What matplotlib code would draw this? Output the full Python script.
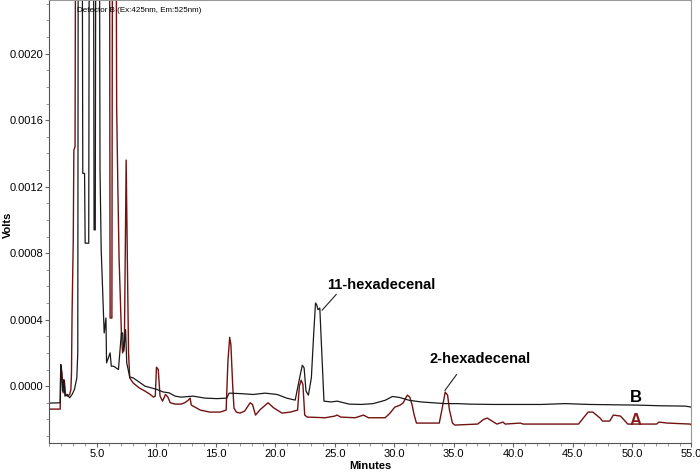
import numpy as np
import matplotlib.pyplot as plt
from matplotlib.ticker import MultipleLocator, FormatStrFormatter

plt.rcParams['font.family'] = ['Liberation Sans', 'DejaVu Sans']

# trace B (black) : minutes / signal in 1e-4 V (30 = off scale)
t_b = [1.0, 1.9, 1.95, 2.0, 2.1, 2.2, 2.3, 2.5, 2.7, 2.9, 3.1, 3.3, 3.38, 3.42,
       3.75, 3.8, 3.95, 4.0, 4.3, 4.35, 4.7, 4.75, 4.85, 4.9, 5.2, 5.25, 5.35,
       5.6, 5.75, 5.8, 6.1, 6.2, 6.4, 6.6, 6.8, 7.05, 7.15, 7.25, 7.4, 7.5, 7.75,
       8.03, 8.54, 9.04, 9.55, 10.05, 10.56, 11.06, 11.57, 12.07, 13.08, 14.09,
       15.1, 15.91, 16.11, 17.12, 18.13, 19.14, 20.15, 20.96, 21.67, 22.07, 22.27,
       22.42, 22.58, 22.78, 23.03, 23.23, 23.38, 23.48, 23.59, 23.74, 23.94, 24.09,
       24.7, 25.2, 26.21, 27.22, 28.23, 29.24, 29.85, 30.45, 31.26, 32.27, 33.28,
       34.29, 35.3, 36.31, 38.33, 40.35, 42.37, 44.39, 46.41, 48.43, 50.45, 52.47,
       54.49, 55.0]
v_b = [-1.02, -1.0, 1.26, 0.9, -0.3, 0.4, -0.6, -0.5, -0.7, -0.5, -0.2, 0.5, 2.0, 30,
       30, 12.8, 12.8, 8.6, 8.6, 30, 30, 9.4, 9.4, 30, 30, 13, 8.2,
       3.2, 4.1, 1.4, 2.0, 1.2, 1.2, 1.1, 1.0, 3.2, 3.2, 2.1, 3.4, 1.4, 0.55,
       0.5, 0.25, 0.0, -0.1, -0.2, -0.35, -0.4, -0.6, -0.66, -0.6, -0.72,
       -0.75, -0.72, -0.42, -0.45, -0.5, -0.42, -0.5, -0.72, -0.84, 0.6, 1.26,
       1.1, -0.3, -0.54, 0.5, 3.2, 5.0, 4.9, 4.6, 4.7, 1.5, -0.9,
       -0.95, -0.9, -1.08, -1.1, -1.05, -0.85, -0.62, -0.68, -0.85, -0.95, -1.0,
       -1.05, -1.05, -1.08, -1.1, -1.1, -1.1, -1.05, -1.1, -1.12, -1.14, -1.18,
       -1.2, -1.26]

# trace A (dark red)
t_a = [1.0, 1.9, 1.95, 2.05, 2.15, 2.25, 2.35, 2.5, 2.7, 2.8, 2.85, 2.9, 3.0, 3.05,
       3.15, 3.2, 6.05, 6.1, 6.25, 6.3, 6.6, 6.65, 6.75, 6.85, 7.05, 7.15, 7.3,
       7.45, 7.55, 7.65, 7.75, 8.03, 8.54, 9.04, 9.44, 9.75, 9.9, 10.0, 10.15, 10.3,
       10.51, 10.76, 10.96, 11.16, 11.57, 12.07, 12.37, 12.68, 12.83, 12.93, 13.69,
       14.49, 15.35, 15.86, 16.01, 16.16, 16.26, 16.41, 16.52, 16.72, 17.02, 17.42,
       17.88, 18.08, 18.33, 18.74, 19.39, 19.85, 20.56, 21.26, 21.87, 22.02, 22.17,
       22.32, 22.47, 22.68, 24.19, 25.0, 25.2, 25.5, 26.72, 27.42, 27.83, 29.24,
       29.65, 30.05, 30.5, 30.76, 30.96, 31.11, 31.31, 31.51, 31.66, 31.87, 33.79,
       33.99, 34.29, 34.49, 34.65, 34.9, 35.1, 37.02, 37.52, 37.83, 38.23, 38.64,
       39.14, 39.34, 40.6, 40.86, 45.5, 46.31, 46.71, 47.32, 47.52, 48.13, 48.43,
       49.04, 49.65, 52.07, 52.27, 52.98, 54.9, 55.0]
v_a = [-1.38, -1.38, 1.3, 0.8, -0.4, 0.36, -0.5, -0.6, -0.5, -0.2, 0.8, 4.4, 8.8, 14.2,
       14.4, 30, 30, 4.1, 4.1, 30, 30, 16.8, 12.0, 7.8, 3.2, 2.0, 2.5,
       13.6, 7.6, 2.0, 0.5, 0.2, -0.1, -0.3, -0.48, -0.66, -0.6, 1.14, 1.0, -0.6,
       -0.9, -0.5, -0.66, -1.0, -1.08, -1.08, -1.0, -0.84, -0.72, -1.14, -1.44,
       -1.56, -1.56, -1.44, 1.5, 2.94, 2.5, 0.06, -1.32, -1.56, -1.62, -1.5,
       -1.0, -1.1, -1.74, -1.4, -1.0, -1.3, -1.62, -1.56, -1.44, 0.0, 0.36,
       0.1, -1.74, -1.86, -1.9, -1.8, -1.74, -1.86, -1.9, -1.74, -1.9, -1.9,
       -1.62, -1.26, -1.14, -1.0, -0.72, -0.54, -0.66, -1.14, -1.68, -2.22, -2.22,
       -1.5, -0.36, -0.54, -1.44, -2.22, -2.34, -2.28, -2.0, -1.92, -2.1, -2.28,
       -2.16, -2.28, -2.22, -2.28, -2.28, -1.56, -1.56, -1.92, -2.1, -2.1, -1.74,
       -1.8, -2.28, -2.28, -2.16, -2.22, -2.28, -2.34]

volts_b = np.array(v_b) * 1e-4
volts_a = np.array(v_a) * 1e-4

fig = plt.figure(figsize=(7, 4.72), dpi=100)
ax = fig.add_axes([0.0707, 0.0614, 0.917, 0.9376])

ax.plot(t_a, volts_a, color='#721212', lw=1.0)
ax.plot(t_b, volts_b, color='#1a1a1a', lw=0.9)

ax.set_xlim(1.0, 55.0)
ax.set_ylim(-0.000342, 0.00232)

ax.xaxis.set_major_locator(MultipleLocator(5))
ax.xaxis.set_minor_locator(MultipleLocator(1))
ax.xaxis.set_major_formatter(FormatStrFormatter('%.1f'))
ax.yaxis.set_major_locator(MultipleLocator(0.0004))
ax.yaxis.set_minor_locator(MultipleLocator(0.0001))
ax.yaxis.set_major_formatter(FormatStrFormatter('%.4f'))
ax.tick_params(which='major', direction='out', length=3, width=0.8,
               labelsize=8, color='#666666', pad=1.5)
ax.tick_params(which='minor', direction='out', length=2, width=0.6, color='#888888')

for side in ['top', 'right']:
    ax.spines[side].set_color('#999999')
for side in ['left', 'bottom']:
    ax.spines[side].set_color('#555555')

ax.set_xlabel('Minutes', fontsize=8, fontweight='bold', labelpad=1)
fig.text(0.012, 0.523, 'Volts', rotation=90, fontsize=8, fontweight='bold',
         ha='center', va='center')

ax.text(0.043, 0.977, 'Detector B (Ex:425nm, Em:525nm)', transform=ax.transAxes,
        fontsize=5.8, va='center', ha='left')

ax.text(28.9, 0.000607, '11-hexadecenal', fontsize=10.5, fontweight='bold',
        ha='center', va='center')
ax.annotate('', xy=(23.77, 0.000444), xytext=(25.29, 0.000565),
            arrowprops=dict(arrowstyle='-', color='#222222', lw=0.8))
ax.text(37.24, 0.000162, '2-hexadecenal', fontsize=10.5, fontweight='bold',
        ha='center', va='center')
ax.annotate('', xy=(34.12, -0.00004), xytext=(35.39, 0.000084),
            arrowprops=dict(arrowstyle='-', color='#222222', lw=0.8))

ax.text(50.3, -0.000066, 'B', fontsize=12, fontweight='bold', color='black',
        ha='center', va='center')
ax.text(50.3, -0.000206, 'A', fontsize=12, fontweight='bold', color='#8b1a1a',
        ha='center', va='center')

plt.savefig('out.png', dpi=100)
